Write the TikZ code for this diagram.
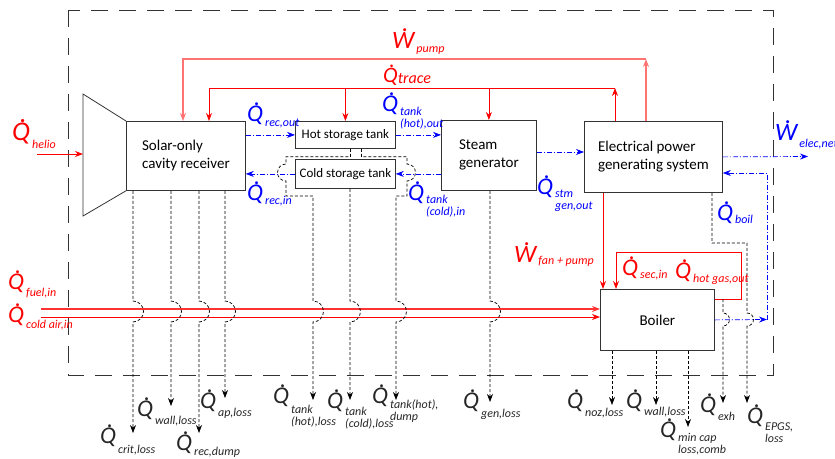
\documentclass[tikz,border=0pt]{standalone}
\usepackage{amsmath}
\usepackage{fontspec}
\setmainfont{Carlito}
\usetikzlibrary{calc}
\usetikzlibrary{arrows.meta}

\newcommand{\dotover}[1]{\leavevmode\ooalign{\itshape #1\cr\hidewidth\kern0.16em\raisebox{0.66em}{\itshape .}\hidewidth\cr}}
\newcommand{\Qd}{\dotover{Q}}
\newcommand{\Wd}{\dotover{W}}
\newcommand{\flux}[4][24]{{\fontsize{#1}{#1}\selectfont #2}\hspace{2pt}\raisebox{-#3pt}{\fontsize{12}{12.5}\selectfont\itshape\begin{tabular}[t]{@{}l@{}}#4\end{tabular}}}

\begin{document}
\begin{tikzpicture}[x=1pt, y=-1pt, >={Stealth[length=8pt,width=6pt]},
  boxnode/.style={draw=black!80, line width=0.8pt, inner sep=0pt, align=left, anchor=north west, font=\fontsize{15}{18}\selectfont},
  tanknode/.style={boxnode, font=\fontsize{13}{15}\selectfont},
  border/.style={black!80, line width=0.8pt, dash pattern=on 17pt off 11pt},
  heat/.style={blue, line width=0.7pt, dash pattern=on 5pt off 2pt on 1pt off 2pt},
  fire/.style={red, line width=0.8pt},
  pumpline/.style={red!55, line width=1.4pt},
  loss/.style={black, line width=0.7pt, dash pattern=on 3pt off 2pt},
  lbl/.style={anchor=base west, inner sep=0pt}]
\useasboundingbox (0,0) rectangle (835,458);
\draw[border] (68,10) rectangle (773,375);

\node[boxnode, name=receiver, minimum width=119pt, minimum height=69pt] at (126,121) {Solar-only\\cavity receiver};
\node[tanknode, name=hot, minimum width=100pt, minimum height=27pt] at (295,121) {Hot storage tank};
\node[tanknode, name=cold, minimum width=100pt, minimum height=29pt] at (295,159) {Cold storage tank};
\node[boxnode, name=steam, minimum width=95pt, minimum height=70pt] at (441,120) {Steam\\generator};
\node[boxnode, name=epgs, minimum width=138pt, minimum height=71pt] at (584,121) {Electrical power\\generating system};
\node[boxnode, name=boiler, minimum width=114pt, minimum height=61pt] at (600,289) {Boiler};
\draw[draw=black!80, line width=0.8pt] (receiver.north west) -- (83,94) -- (83,216) -- (receiver.south west);

\coordinate (concentrator) at (83,154);
\coordinate (helio) at (37,154);
\coordinate (fuel) at (41,309);
\coordinate (coldair) at (41,317);
\coordinate (pump_knee) at (646,59);
\coordinate (trace_knee) at (615,88);
\coordinate (pump_drop) at (183,0);
\coordinate (trace_drop) at (209,0);
\coordinate (fan_drop) at (603,0);
\coordinate (sec_drop) at (616,0);
\coordinate (recirc) at (741,252);
\coordinate (exh_start) at (723,299);
\coordinate (stm_out) at (0,152);
\coordinate (boil_ret) at (0,173);
\coordinate (boil_knee) at (767,319.5);
\coordinate (elec_net) at (808,156.5);
\coordinate (epgs_drop) at (712,243);
\coordinate (red_hop) at (0,301);
\coordinate (blue_hop) at (0,313);

\coordinate (crit_end) at (133,433);
\coordinate (rwall_end) at (171,406);
\coordinate (dump_end) at (199,433);
\coordinate (ap_end) at (225,398);
\coordinate (tank_hot_end) at (313,400);
\coordinate (tank_cold_end) at (350,400);
\coordinate (tank_dump_end) at (396,400);
\coordinate (gen_end) at (490,402);
\coordinate (noz_end) at (612,405);
\coordinate (bwall_end) at (656,405);
\coordinate (mincap_end) at (688,427);
\coordinate (exh_end) at (723,403);
\coordinate (epgs_loss_end) at (747,403);

% red inputs
\draw[fire,->] (helio) -- (concentrator);
\draw[fire, line width=1.2pt, red!80,->] (fuel) -- (boiler.west |- fuel);
\draw[fire,->] (coldair) -- (boiler.west |- coldair);
\draw[pumpline,->] (epgs.north -| pump_knee) -- (pump_knee);
\draw[pumpline,->] (pump_knee) -| (receiver.north -| pump_drop);
\draw[fire,->] (epgs.north -| trace_knee) -- (trace_knee);
\draw[fire,->] (trace_knee) -| (receiver.north -| trace_drop);
\draw[fire,->] (hot.north |- trace_knee) -- (hot.north);
\draw[fire,->] (steam.north |- trace_knee) -- (steam.north);
\draw[fire,->] (epgs.south -| fan_drop) -- (boiler.north -| fan_drop);
\draw[fire,->] (boiler.east |- exh_start) -| (recirc) -| (boiler.north -| sec_drop);

% blue heat flows
\draw[heat,->] (receiver.east |- hot.west) -- (hot.west);
\draw[heat,->] (hot.east) -- (steam.west |- hot.east);
\draw[heat,->] (steam.east |- stm_out) -- (epgs.west |- stm_out);
\draw[heat,->] (steam.west |- cold.east) -- (cold.east);
\draw[heat,->] (cold.west) -- (receiver.east |- cold.west);
\draw[heat,->] (epgs.east) -- (elec_net);
\draw[heat,->] (boiler.east) -- (boil_knee);
\draw[heat,->] (boil_knee) |- (epgs.east |- boil_ret);

% losses
\draw[loss,->] (receiver.south -| crit_end) -- (crit_end |- red_hop) arc[start angle=90,end angle=-90,radius=10.5pt] -- (crit_end);
\draw[loss,->] (receiver.south -| rwall_end) -- (rwall_end |- red_hop) arc[start angle=90,end angle=-90,radius=10.5pt] -- (rwall_end);
\draw[loss,->] (receiver.south -| dump_end) -- (dump_end |- red_hop) arc[start angle=90,end angle=-90,radius=10.5pt] -- (dump_end);
\draw[loss,->] (receiver.south -| ap_end) -- (ap_end |- red_hop) arc[start angle=90,end angle=-90,radius=10.5pt] -- (ap_end);
\draw[loss,->] ($(hot.south)+(5,0)$) -- ++(0,8) -| (286,164) arc[start angle=90,end angle=270,radius=8.5pt] -- (286,196) -| (tank_hot_end |- red_hop) arc[start angle=90,end angle=-90,radius=10.5pt] -- (tank_hot_end);
\draw[loss,->] ($(hot.south)+(16,0)$) -- ++(0,8) -| (407,164) arc[start angle=90,end angle=-90,radius=8.5pt] -- (407,196) -| (tank_dump_end |- red_hop) arc[start angle=90,end angle=-90,radius=10.5pt] -- (tank_dump_end);
\draw[loss,->] (cold.south -| tank_cold_end) -- (tank_cold_end |- red_hop) arc[start angle=90,end angle=-90,radius=10.5pt] -- (tank_cold_end);
\draw[loss,->] (steam.south -| gen_end) -- (gen_end |- red_hop) arc[start angle=90,end angle=-90,radius=10.5pt] -- (gen_end);
\draw[loss,->] (boiler.south -| noz_end) -- (noz_end);
\draw[loss,->] (boiler.south -| bwall_end) -- (bwall_end);
\draw[loss,->] (boiler.south -| mincap_end) -- (mincap_end);
\draw[loss,->] (exh_start) -- (exh_end |- blue_hop) arc[start angle=90,end angle=-90,radius=6.5pt] -- (exh_end);
\draw[loss,->] (epgs.south -| epgs_drop) -- (epgs_drop) -| (epgs_loss_end |- blue_hop) arc[start angle=90,end angle=-90,radius=6.5pt] -- (epgs_loss_end);

% labels
\node[lbl, text=red, name=q_helio] at (12,140) {\flux[27]{\Qd}{8}{helio}};
\node[lbl, text=red, name=q_fuel] at (8,289) {\flux{\Qd}{7}{fuel,in}};
\node[lbl, text=red, name=q_coldair] at (8,322) {\flux{\Qd}{6}{cold air,in}};
\node[lbl, text=red, name=w_pump] at (392,48) {\flux[25]{\Wd}{4}{pump}};
\node[lbl, text=red, name=q_trace] at (383,82) {{\fontsize{22}{22}\selectfont\Qd}\raisebox{-1pt}{\fontsize{16}{16}\selectfont\itshape trace}};
\node[lbl, text=red, name=w_fan] at (514,262) {\flux[25]{\Wd}{2}{fan + pump}};
\node[lbl, text=red, name=q_sec] at (622,275) {\flux{\Qd}{3}{sec,in}};
\node[lbl, text=red, name=q_hotgas] at (675,278) {\flux{\Qd}{4}{hot gas,out}};

\node[lbl, text=blue, name=q_rec_out] at (247,121) {\flux{\Qd}{5}{rec,out}};
\node[lbl, text=blue, name=q_rec_in] at (247,200) {\flux{\Qd}{4}{rec,in}};
\node[lbl, text=blue, name=q_tank_out] at (382,111) {\flux{\Qd}{4}{tank\\(hot),out}};
\node[lbl, text=blue, name=q_tank_in] at (408,200) {\flux{\Qd}{3}{tank\\(cold),in}};
\node[lbl, text=blue, name=q_stm] at (537,194) {\flux{\Qd}{3}{stm\\gen,out}};
\node[lbl, text=blue, name=q_boil] at (717,220) {\flux{\Qd}{3}{boil}};
\node[lbl, text=blue, name=w_elec] at (775,140) {\flux[25]{\Wd}{7}{elec,net}};

\node[lbl, text=black!85, name=q_crit] at (100,443) {\flux{\Qd}{10}{crit,loss}};
\node[lbl, text=black!85, name=q_rwall] at (137,416) {\flux{\Qd}{8}{wall,loss}};
\node[lbl, text=black!85, name=q_recdump] at (176,450) {\flux{\Qd}{5}{rec,dump}};
\node[lbl, text=black!85, name=q_ap] at (200,408) {\flux{\Qd}{8}{ap,loss}};
\node[lbl, text=black!85, name=q_tank_hot] at (273,403) {\flux{\Qd}{10}{tank\\(hot),loss}};
\node[lbl, text=black!85, name=q_tank_cold] at (327,408) {\flux{\Qd}{7}{tank\\(cold),loss}};
\node[lbl, text=black!85, name=q_tank_dump] at (372,403) {\flux{\Qd}{5}{tank(hot),\\dump}};
\node[lbl, text=black!85, name=q_gen] at (463,408) {\flux{\Qd}{9}{gen,loss}};
\node[lbl, text=black!85, name=q_noz] at (567,408) {\flux{\Qd}{8}{noz,loss}};
\node[lbl, text=black!85, name=q_bwall] at (626,408) {\flux{\Qd}{7}{wall,loss}};
\node[lbl, text=black!85, name=q_mincap] at (660,437) {\flux{\Qd}{4}{min cap\\loss,comb}};
\node[lbl, text=black!85, name=q_exh] at (700,412) {\flux{\Qd}{8}{exh}};
\node[lbl, text=black!85, name=q_epgs] at (747,423) {\flux{\Qd}{7}{EPGS,\\loss}};
\end{tikzpicture}
\end{document}
